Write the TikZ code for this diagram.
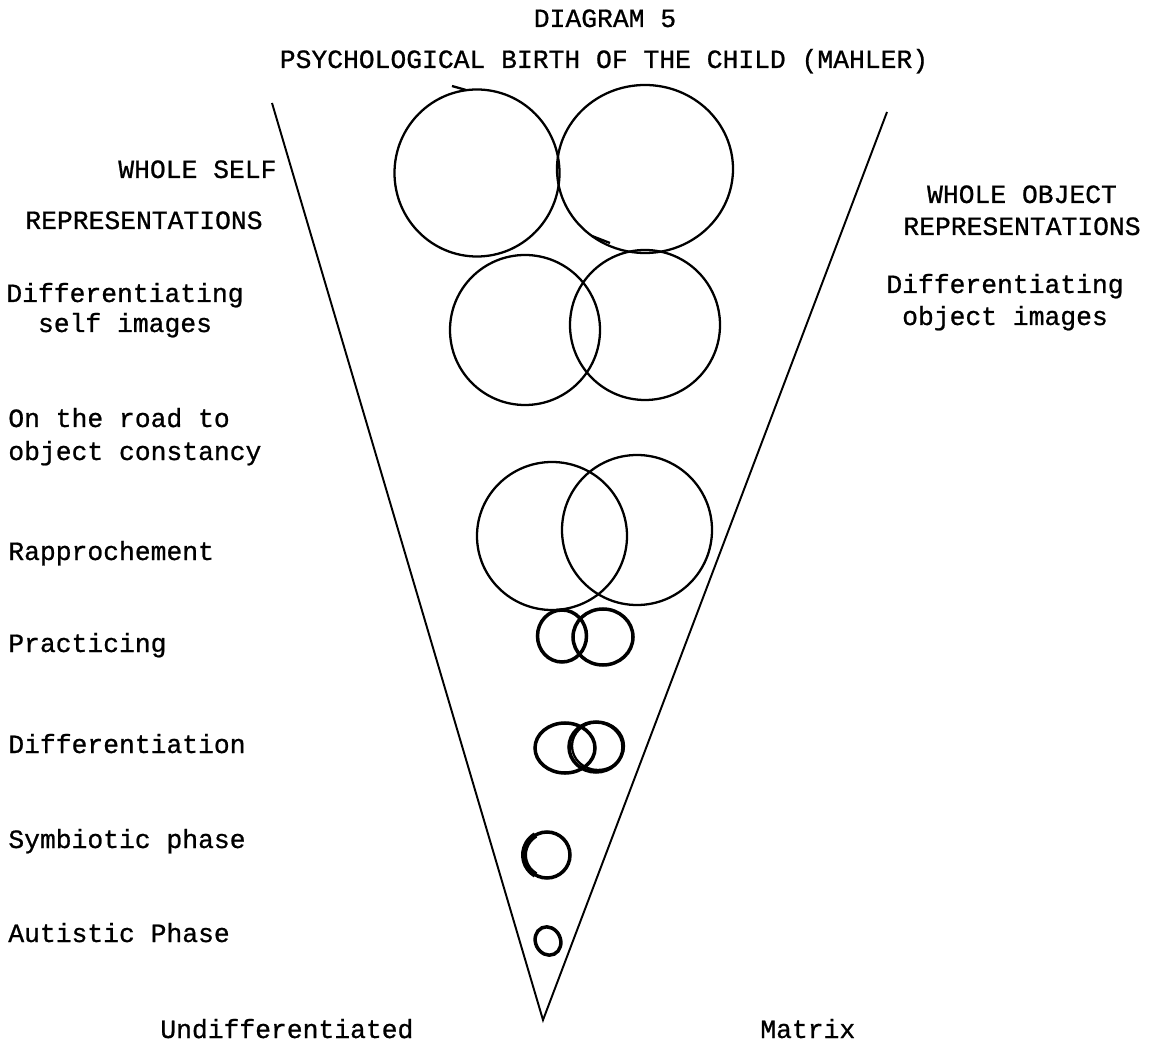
\documentclass[tikz,border=0pt]{standalone}
\usepackage{fontspec}
\setmonofont{Liberation Mono}[FakeBold=0.8]
\usepackage{tikz}
\usetikzlibrary{arrows.meta,positioning,calc}
\usepackage{xcolor}

\begin{document}
\begin{tikzpicture}[
    x=0.02cm, y=-0.02cm,
    font=\ttfamily\fontsize{15pt}{18pt}\selectfont,
    lbl/.style={inner sep=0pt, anchor=base west},
    clbl/.style={inner sep=0pt, anchor=base},
    cone/.style={line width=1.1pt},
    ring/.style={line width=1.3pt},
    blob/.style={line width=2pt}
  ]
    \useasboundingbox[fill=white] (0,0) rectangle (1149,1043);

    % titles
    \node[clbl] (dia) at (605,27) {DIAGRAM 5};
    \node[clbl] (title) at (604,68) {PSYCHOLOGICAL BIRTH OF THE CHILD (MAHLER)};

    % the cone
    \coordinate (apex) at (543,1020);
    \coordinate (ltop) at (272,103);
    \coordinate (rtop) at (887,112);
    \draw[cone] (ltop) -- (apex) -- (rtop);

    % left column
    \node[lbl] (wself) at (118,178) {WHOLE SELF};
    \node[lbl] (wselfb) at (25,229) {REPRESENTATIONS};
    \node[clbl] (dself) at (125,302) {Differentiating};
    \node[clbl] (dselfb) at (125,332) {self images};
    \node[lbl] (road) at (8,427) {On the road to};
    \node[lbl] (roadb) at (8,460) {object constancy};
    \node[lbl] (rappr) at (8,560) {Rapprochement};
    \node[lbl] (pract) at (8,652) {Practicing};
    \node[lbl] (diff) at (8,753) {Differentiation};
    \node[lbl] (symb) at (8,848) {Symbiotic phase};
    \node[lbl] (aut) at (8,942) {Autistic Phase};

    % right column
    \node[clbl] (wobj) at (1022,203) {WHOLE OBJECT};
    \node[clbl] (wobjb) at (1022,235) {REPRESENTATIONS};
    \node[clbl] (dobj) at (1005,293) {Differentiating};
    \node[clbl] (dobjb) at (1005,325) {object images};

    % bottom
    \node[lbl] (undiff) at (160,1038) {Undifferentiated};
    \node[lbl] (matrix) at (760,1038) {Matrix};

    % self and object rings, top to bottom
    \draw[ring] (477,173) ellipse [x radius=82.5, y radius=83.5];
    \draw[ring] (645,169) ellipse [x radius=88, y radius=84];
    \draw[ring] (452,86) -- (466,90);
    \draw[ring] (592,236) -- (610,243);

    \draw[ring] (525,330) ellipse [x radius=75, y radius=75];
    \draw[ring] (645,325) ellipse [x radius=75, y radius=75];

    \draw[ring] (552,536) ellipse [x radius=75, y radius=74];
    \draw[ring] (637,530) ellipse [x radius=75, y radius=75];

    \draw[blob] (562,636) ellipse [x radius=24.5, y radius=26];
    \draw[blob] (603,637) ellipse [x radius=30, y radius=28];

    \draw[blob] (565,748) ellipse [x radius=30, y radius=25];
    \draw[blob] (596,747) ellipse [x radius=27, y radius=25];
    \draw[ring] (598,746) ellipse [x radius=26, y radius=24];

    \draw[blob] (547,855) ellipse [x radius=23, y radius=23];
    \draw[line width=3.4pt] (535.5,874.9) arc[start angle=120, end angle=240, radius=23];

    \draw[blob, rotate around={25:(548,941)}] (548,941) ellipse [x radius=12.5, y radius=14.5];
  \end{tikzpicture}
\end{document}
